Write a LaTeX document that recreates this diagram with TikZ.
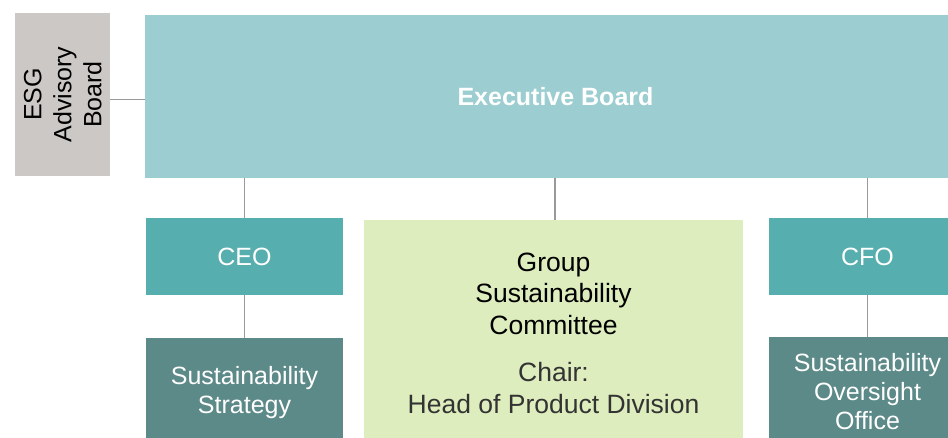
\documentclass[tikz,border=0pt]{standalone}
\usepackage{fontspec}
\setmainfont{Liberation Sans}
\usepackage{xcolor}
\usetikzlibrary{positioning}
\definecolor{advisorygray}{RGB}{204,200,197}
\definecolor{boardblue}{RGB}{155,205,209}
\definecolor{officerteal}{RGB}{86,174,175}
\definecolor{deptteal}{RGB}{92,138,136}
\definecolor{committeegreen}{RGB}{221,237,189}
\definecolor{chairgray}{RGB}{51,51,51}
\definecolor{linegray}{RGB}{153,153,153}

\begin{document}
\begin{tikzpicture}[x=1pt, y=-1pt,
    unit/.style={inner sep=0pt, align=center, font=\fontsize{25}{29}\selectfont},
    advisory/.style={unit, fill=advisorygray, text=black, minimum width=95pt, minimum height=163pt},
    board/.style={unit, fill=boardblue, text=white, minimum width=821pt, minimum height=163pt, font=\fontsize{25}{29}\selectfont\bfseries},
    officer/.style={unit, fill=officerteal, text=white, minimum width=197pt, minimum height=77pt},
    dept/.style={unit, fill=deptteal, text=white, minimum width=197pt, minimum height=109pt},
    committee/.style={unit, fill=committeegreen, text=black, minimum width=379pt, minimum height=226pt, font=\fontsize{26.5}{31.5}\selectfont},
    link/.style={draw=linegray, line width=1.5pt},
]
    \useasboundingbox (0,0) rectangle (948,438);
    \clip (0,0) rectangle (948,438);

    % Board level
    \node[advisory] (esg) at (62.5, 94.5) {\hspace*{6pt}\rotatebox{90}{\begin{tabular}{@{}c@{}}ESG\\[1pt]Advisory\\[1pt]Board\end{tabular}}};
    \node[board] (exec) at (555.5, 96.5) {Executive Board};

    % Officers
    \node[officer] (ceo) at (244.5, 256.5) {\raisebox{-3pt}{CEO}};
    \node[officer] (cfo) at (867.5, 256.5) {\raisebox{-3pt}{CFO}};

    % Committee
    \node[committee] (gsc) at (553.5, 333) {Group\\Sustainability\\Committee\\[16pt]\textcolor{chairgray}{Chair:}\\\textcolor{chairgray}{Head of Product Division}};

    % Departments
    \node[dept] (strategy) at (244.5, 392.5) {Sustainability\\Strategy};
    \node[dept] (oversight) at (867.5, 391.5) {Sustainability\\Oversight\\Office};

    % Connectors
    \draw[link] ([yshift=-5pt]esg.east) -- ([yshift=-5pt]esg.east -| exec.west);
    \draw[link] (ceo.north) -- (ceo.north |- exec.south);
    \draw[link] ([xshift=1.5pt]gsc.north) -- ([xshift=1.5pt]gsc.north |- exec.south);
    \draw[link] (cfo.north) -- (cfo.north |- exec.south);
    \draw[link] (ceo) -- (strategy);
    \draw[link] (cfo) -- (oversight);
\end{tikzpicture}
\end{document}
